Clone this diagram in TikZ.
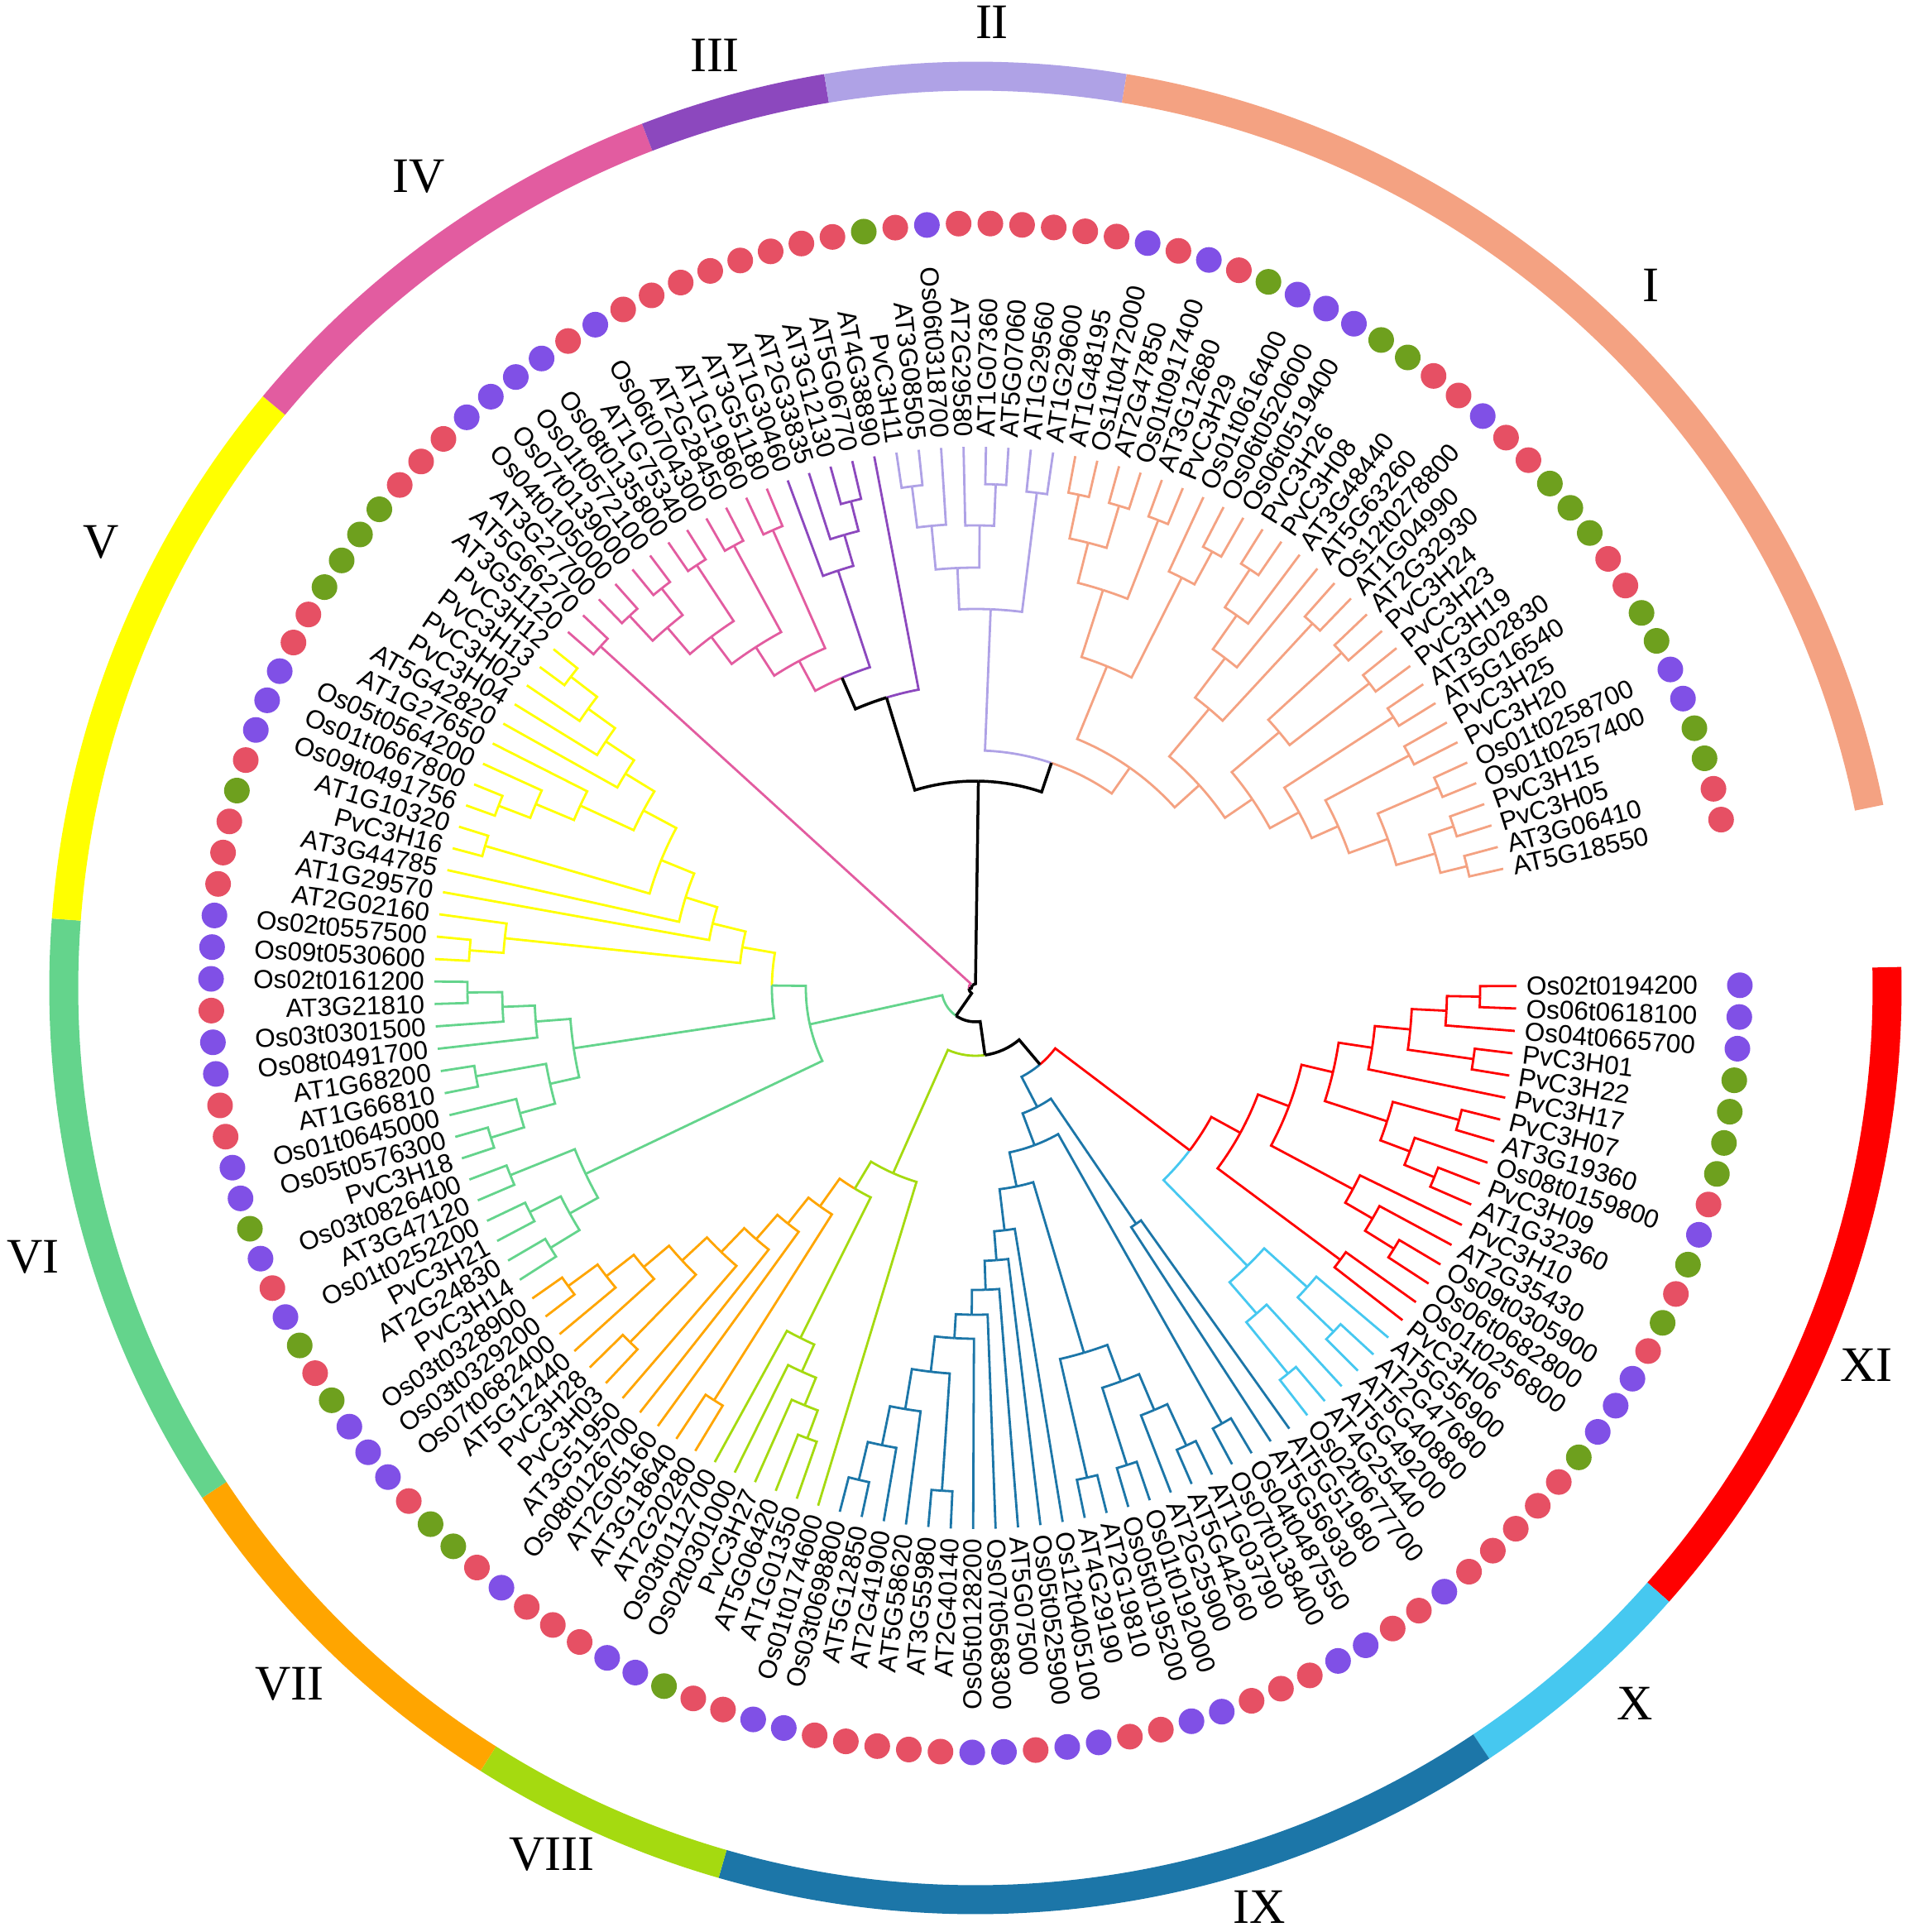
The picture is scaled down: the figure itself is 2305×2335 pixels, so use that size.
\documentclass[tikz,border=0pt]{standalone}
\usepackage{fontspec}
\setmainfont{Liberation Sans}
\newfontfamily\labfont{Liberation Sans}
\newfontfamily\romf{Liberation Serif}
\definecolor{cI}{RGB}{244,162,130}
\definecolor{cII}{RGB}{175,162,230}
\definecolor{cIII}{RGB}{140,72,190}
\definecolor{cIV}{RGB}{226,92,160}
\definecolor{cV}{RGB}{255,255,0}
\definecolor{cVI}{RGB}{100,212,140}
\definecolor{cVII}{RGB}{255,165,0}
\definecolor{cVIII}{RGB}{165,218,16}
\definecolor{cIX}{RGB}{28,118,168}
\definecolor{cX}{RGB}{70,200,240}
\definecolor{cXI}{RGB}{255,0,0}
\definecolor{dotR}{RGB}{230,80,100}
\definecolor{dotP}{RGB}{128,80,230}
\definecolor{dotG}{RGB}{110,160,30}
\tikzset{
  br/.style={line width=2.8pt, line join=miter, line cap=butt},
  gI/.style={br, draw=cI}, gII/.style={br, draw=cII}, gIII/.style={br, draw=cIII},
  gIV/.style={br, draw=cIV}, gV/.style={br, draw=cV}, gVI/.style={br, draw=cVI},
  gVII/.style={br, draw=cVII}, gVIII/.style={br, draw=cVIII}, gIX/.style={br, draw=cIX},
  gX/.style={br, draw=cX}, gXI/.style={br, draw=cXI}, gK/.style={br, draw=black, line width=3.5pt},
  lab/.style={font=\labfont\fontsize{31.5}{36}\selectfont, inner sep=0pt},
  rn/.style={font=\romf\fontsize{60}{70}\selectfont, inner sep=0pt}
}
% tree machinery: leaf and binary node (radius, style A, child A, style B, child B)
\def\Lf#1{\pgfmathsetmacro\tmpang{0.2-2.38*(#1-1)}\xdef\gA{\tmpang}\xdef\gR{654}}
\def\Nd#1#2#3#4#5{\begingroup
  #3\edef\aA{\gA}\edef\rA{\gR}%
  #5\edef\aB{\gA}\edef\rB{\gR}%
  \pgfmathsetmacro\aM{(\aA+\aB)/2}%
  \draw[#2] (\aA:\rA pt) -- (\aA:#1pt) arc[start angle=\aA, end angle=\aM, radius=#1pt];%
  \draw[#4] (\aB:\rB pt) -- (\aB:#1pt) arc[start angle=\aB, end angle=\aM, radius=#1pt];%
  \xdef\gA{\aM}\xdef\gR{#1}%
  \endgroup}
\def\Qd#1#2#3#4{\Nd{#1}{#2}{#3}{#2}{#4}}
% ---- group XI
\def\TrXI{\Qd{365}{gXI}{\Qd{405}{gXI}{\Qd{444}{gXI}{\Qd{485}{gXI}{\Qd{528}{gXI}{\Qd{570}{gXI}{\Qd{610}{gXI}{\Lf{1}}{\Lf{2}}}{\Lf{3}}}{\Qd{608}{gXI}{\Lf{4}}{\Lf{5}}}}{\Lf{6}}}{\Qd{523}{gXI}{\Qd{606}{gXI}{\Lf{7}}{\Lf{8}}}{\Qd{561}{gXI}{\Lf{9}}{\Qd{600}{gXI}{\Lf{10}}{\Lf{11}}}}}}{\Qd{517}{gXI}{\Lf{12}}{\Qd{555}{gXI}{\Lf{13}}{\Qd{596}{gXI}{\Lf{14}}{\Lf{15}}}}}}{\Qd{550}{gXI}{\Lf{16}}{\Lf{17}}}}
% ---- group X
\def\TrX{\Qd{470}{gX}{\Qd{540}{gX}{\Lf{18}}{\Qd{600}{gX}{\Lf{19}}{\Lf{20}}}}{\Qd{520}{gX}{\Lf{21}}{\Qd{600}{gX}{\Lf{22}}{\Lf{23}}}}}
% ---- group IX
\def\TrD{\Qd{424}{gIX}{\Lf{39}}{\Qd{467}{gIX}{\Qd{609}{gIX}{\Lf{40}}{\Lf{41}}}{\Qd{516}{gIX}{\Lf{42}}{\Qd{564}{gIX}{\Lf{43}}{\Qd{611}{gIX}{\Lf{44}}{\Lf{45}}}}}}}
\def\TrIX{\Qd{162}{gIX}{\Qd{345}{gIX}{\Lf{24}}{\Lf{25}}}{\Qd{203}{gIX}{\Qd{605}{gIX}{\Lf{26}}{\Lf{27}}}{\Qd{245}{gIX}{\Qd{460}{gIX}{\Qd{507}{gIX}{\Qd{554}{gIX}{\Qd{609}{gIX}{\Lf{28}}{\Lf{29}}}{\Lf{30}}}{\Qd{605}{gIX}{\Lf{31}}{\Lf{32}}}}{\Qd{607}{gIX}{\Lf{33}}{\Lf{34}}}}{\Qd{295}{gIX}{\Lf{35}}{\Qd{330}{gIX}{\Lf{36}}{\Qd{365}{gIX}{\Lf{37}}{\Qd{395}{gIX}{\Lf{38}}{\TrD}}}}}}}}
\def\TrXIX{\Nd{121}{gIX}{\TrIX}{gXI}{\Nd{325}{gX}{\TrX}{gXI}{\TrXI}}}
% ---- groups VIII, VII
\def\TrVIII{\Qd{473}{gVIII}{\Lf{51}}{\Qd{509}{gVIII}{\Lf{50}}{\Qd{545}{gVIII}{\Lf{49}}{\Qd{581}{gVIII}{\Lf{48}}{\Lf{47}}}}}}
\def\TrVII{\Qd{324}{gVII}{\Qd{364}{gVII}{\Lf{54}}{\Qd{403}{gVII}{\Lf{55}}{\Qd{443}{gVII}{\Lf{56}}{\Qd{484}{gVII}{\Qd{524}{gVII}{\Lf{59}}{\Qd{566}{gVII}{\Lf{60}}{\Qd{610}{gVII}{\Lf{61}}{\Lf{62}}}}}{\Qd{598}{gVII}{\Lf{57}}{\Lf{58}}}}}}}{\Qd{590}{gVII}{\Lf{52}}{\Lf{53}}}}
\def\TrVIIVIII{\Qd{245}{gVIII}{\Lf{46}}{\Nd{283}{gVIII}{\TrVIII}{gVII}{\TrVII}}}
\def\TrNtwo{\Nd{82}{gVIII}{\TrVIIVIII}{gK}{\TrXIX}}
% ---- groups V, VI
\def\TrV{\Qd{286}{gV}{\Qd{327}{gV}{\Lf{81}}{\Qd{367}{gV}{\Lf{82}}{\Qd{410}{gV}{\Qd{455}{gV}{\Qd{496}{gV}{\Lf{89}}{\Qd{537}{gV}{\Lf{90}}{\Qd{577}{gV}{\Lf{91}}{\Qd{617}{gV}{\Lf{92}}{\Lf{93}}}}}}{\Qd{526}{gV}{\Lf{88}}{\Qd{576}{gV}{\Lf{87}}{\Qd{617}{gV}{\Lf{85}}{\Lf{86}}}}}}{\Qd{617}{gV}{\Lf{83}}{\Lf{84}}}}}}{\Qd{572}{gV}{\Lf{80}}{\Qd{613}{gV}{\Lf{78}}{\Lf{79}}}}}
\def\TrVIa{\Qd{491}{gVI}{\Qd{533}{gVI}{\Lf{74}}{\Qd{572}{gVI}{\Lf{75}}{\Qd{614}{gVI}{\Lf{76}}{\Lf{77}}}}}{\Qd{527}{gVI}{\Qd{613}{gVI}{\Lf{72}}{\Lf{73}}}{\Qd{571}{gVI}{\Lf{71}}{\Qd{613}{gVI}{\Lf{69}}{\Lf{70}}}}}}
\def\TrVIb{\Qd{522}{gVI}{\Qd{606}{gVI}{\Lf{67}}{\Lf{68}}}{\Qd{561}{gVI}{\Qd{603}{gVI}{\Lf{65}}{\Lf{66}}}{\Qd{602}{gVI}{\Lf{63}}{\Lf{64}}}}}
\def\TrVVI{\Qd{205}{gVI}{\Nd{246}{gV}{\TrV}{gVI}{\TrVIa}}{\TrVIb}}
\def\TrNone{\Nd{41}{gVI}{\TrVVI}{gK}{\TrNtwo}}
% ---- groups I - IV
\def\TrII{\Qd{458}{gII}{\Qd{508}{gII}{\Qd{561}{gII}{\Qd{611}{gII}{\Lf{111}}{\Lf{112}}}{\Lf{113}}}{\Qd{559}{gII}{\Lf{114}}{\Qd{609}{gII}{\Lf{115}}{\Lf{116}}}}}{\Qd{603}{gII}{\Lf{117}}{\Lf{118}}}}
\def\TrI{\Qd{325}{gI}{\Qd{420}{gI}{\Qd{505}{gI}{\Qd{555}{gI}{\Qd{609}{gI}{\Lf{119}}{\Lf{120}}}{\Qd{608}{gI}{\Lf{121}}{\Lf{122}}}}{\Qd{607}{gI}{\Lf{123}}{\Lf{124}}}}{\Qd{555}{gI}{\Lf{125}}{\Qd{600}{gI}{\Lf{126}}{\Lf{127}}}}}{\Qd{365}{gI}{\Qd{440}{gI}{\Qd{500}{gI}{\Qd{550}{gI}{\Qd{605}{gI}{\Lf{128}}{\Lf{129}}}{\Lf{130}}}{\Lf{131}}}{\Qd{600}{gI}{\Lf{132}}{\Lf{133}}}}{\Qd{405}{gI}{\Qd{480}{gI}{\Qd{600}{gI}{\Lf{134}}{\Lf{135}}}{\Qd{602}{gI}{\Lf{136}}{\Lf{137}}}}{\Qd{445}{gI}{\Qd{602}{gI}{\Lf{138}}{\Lf{139}}}{\Qd{480}{gI}{\Qd{530}{gI}{\Qd{579}{gI}{\Qd{612}{gI}{\Lf{146}}{\Lf{147}}}{\Qd{610}{gI}{\Lf{144}}{\Lf{145}}}}{\Qd{610}{gI}{\Lf{142}}{\Lf{143}}}}{\Qd{595}{gI}{\Lf{140}}{\Lf{141}}}}}}}}
\def\TrIII{\Qd{531}{gIII}{\Lf{106}}{\Qd{570}{gIII}{\Lf{107}}{\Qd{607}{gIII}{\Lf{108}}{\Lf{109}}}}}
\def\TrIV{\Qd{449}{gIV}{\Qd{490}{gIV}{\Qd{531}{gIV}{\Qd{573}{gIV}{\Qd{614}{gIV}{\Lf{96}}{\Lf{97}}}{\Qd{614}{gIV}{\Lf{98}}{\Lf{99}}}}{\Qd{612}{gIV}{\Lf{100}}{\Lf{101}}}}{\Qd{609}{gIV}{\Lf{102}}{\Lf{103}}}}{\Qd{605}{gIV}{\Lf{104}}{\Lf{105}}}}
\def\TrTop{\Nd{250}{gK}{\Nd{367}{gK}{\Nd{408}{gIV}{\TrIV}{gIII}{\TrIII}}{gIII}{\Lf{110}}}{gK}{\Nd{287}{gII}{\TrII}{gI}{\TrI}}}
\begin{document}
\begin{tikzpicture}[x=1pt,y=1pt]
\useasboundingbox (-1179,-1141) rectangle (1126,1194);
% outer ring (group strip)
\foreach \sa/\ea/\gc in {1.3/-41.5/cXI, -41.5/-56.3/cX, -56.3/-106.1/cIX, -106.1/-122.3/cVIII, -122.3/-146.6/cVII, -146.6/-184.3/cVI, -184.3/-219.7/cV, -219.7/-248.9/cIV, -248.9/-260.6/cIII, -260.6/-279.4/cII, -279.4/-348.6/cI}{
  \draw[line width=35pt, draw=\gc] (\sa:1102pt) arc[start angle=\sa, end angle=\ea, radius=1102pt];
}
% tree
\Nd{5}{gK}{\TrTop}{gK}{\Nd{8}{gIV}{\Qd{613}{gIV}{\Lf{94}}{\Lf{95}}}{gK}{\TrNone}}
% labels and dots
\foreach \kk/\nm/\ccl in {1/Os02t0194200/P,2/Os06t0618100/P,3/Os04t0665700/P,4/PvC3H01/G,5/PvC3H22/G,6/PvC3H17/G,7/PvC3H07/G,8/AT3G19360/R,9/Os08t0159800/P,10/PvC3H09/G,11/AT1G32360/R,12/PvC3H10/G,13/AT2G35430/R,14/Os09t0305900/P,15/Os06t0682800/P,16/Os01t0256800/P,17/PvC3H06/G,18/AT5G56900/R,19/AT2G47680/R,20/AT5G40880/R,21/AT5G49200/R,22/AT4G25440/R,23/Os02t0677700/P,24/AT5G51980/R,25/AT5G56930/R,26/Os04t0487550/P,27/Os07t0138400/P,28/AT1G03790/R,29/AT5G44260/R,30/AT2G25900/R,31/Os01t0192000/P,32/Os05t0195200/P,33/AT2G19810/R,34/AT4G29190/R,35/Os12t0405100/P,36/Os05t0525900/P,37/AT5G07500/R,38/Os07t0568300/P,39/Os05t0128200/P,40/AT2G40140/R,41/AT3G55980/R,42/AT5G58620/R,43/AT2G41900/R,44/AT5G12850/R,45/Os03t0698800/P,46/Os01t0174600/P,47/AT1G01350/R,48/AT5G06420/R,49/PvC3H27/G,50/Os02t0301000/P,51/Os03t0112700/P,52/AT2G20280/R,53/AT3G18640/R,54/AT2G05160/R,55/Os08t0126700/P,56/AT3G51950/R,57/PvC3H03/G,58/PvC3H28/G,59/AT5G12440/R,60/Os07t0682400/P,61/Os03t0329200/P,62/Os03t0328900/P,63/PvC3H14/G,64/AT2G24830/R,65/PvC3H21/G,66/Os01t0252200/P,67/AT3G47120/R,68/Os03t0826400/P,69/PvC3H18/G,70/Os05t0576300/P,71/Os01t0645000/P,72/AT1G66810/R,73/AT1G68200/R,74/Os08t0491700/P,75/Os03t0301500/P,76/AT3G21810/R,77/Os02t0161200/P,78/Os09t0530600/P,79/Os02t0557500/P,80/AT2G02160/R,81/AT1G29570/R,82/AT3G44785/R,83/PvC3H16/G,84/AT1G10320/R,85/Os09t0491756/P,86/Os01t0667800/P,87/Os05t0564200/P,88/AT1G27650/R,89/AT5G42820/R,90/PvC3H04/G,91/PvC3H02/G,92/PvC3H13/G,93/PvC3H12/G,94/AT3G51120/R,95/AT5G66270/R,96/AT3G27700/R,97/Os04t0105000/P,98/Os07t0139000/P,99/Os01t0572100/P,100/Os08t0135800/P,101/AT1G75340/R,102/Os06t0704300/P,103/AT2G28450/R,104/AT1G19860/R,105/AT3G51180/R,106/AT1G30460/R,107/AT2G33835/R,108/AT3G12130/R,109/AT5G06770/R,110/AT4G38890/R,111/PvC3H11/G,112/AT3G08505/R,113/Os06t0318700/P,114/AT2G29580/R,115/AT1G07360/R,116/AT5G07060/R,117/AT1G29560/R,118/AT1G29600/R,119/AT1G48195/R,120/Os11t0472000/P,121/AT2G47850/R,122/Os01t0917400/P,123/AT3G12680/R,124/PvC3H29/G,125/Os01t0616400/P,126/Os06t0520600/P,127/Os06t0519400/P,128/PvC3H26/G,129/PvC3H08/G,130/AT3G48440/R,131/AT5G63260/R,132/Os12t0278800/P,133/AT1G04990/R,134/AT2G32930/R,135/PvC3H24/G,136/PvC3H23/G,137/PvC3H19/G,138/AT3G02830/R,139/AT5G16540/R,140/PvC3H25/G,141/PvC3H20/G,142/Os01t0258700/P,143/Os01t0257400/P,144/PvC3H15/G,145/PvC3H05/G,146/AT3G06410/R,147/AT5G18550/R}{
  \pgfmathsetmacro\ang{0.2-2.38*(\kk-1)}
  \pgfmathsetmacro\csv{cos(\ang)}
  \ifdim\csv pt>0pt
    \node[lab, anchor=west, rotate=\ang] (lab\kk) at (\ang:666pt) {\nm};
  \else
    \pgfmathsetmacro\rotv{\ang+180}
    \node[lab, anchor=east, rotate=\rotv] (lab\kk) at (\ang:666pt) {\nm};
  \fi
  \edef\dc{dot\ccl}
  \fill[fill=\dc] (\ang:924pt) circle[radius=15.5pt];
}
% group numerals
\node[rn] (rI) at (816,849) {I};
\node[rn] (rII) at (20,1167) {II};
\node[rn] (rIII) at (-315,1127) {III};
\node[rn] (rIV) at (-673,981) {IV};
\node[rn] (rV) at (-1057,539) {V};
\node[rn] (rVI) at (-1139,-325) {VI};
\node[rn] (rVII) at (-829,-841) {VII};
\node[rn] (rVIII) at (-512,-1047) {VIII};
\node[rn] (rIX) at (343,-1111) {IX};
\node[rn] (rX) at (797,-865) {X};
\node[rn] (rXI) at (1077,-456) {XI};
\end{tikzpicture}
\end{document}
